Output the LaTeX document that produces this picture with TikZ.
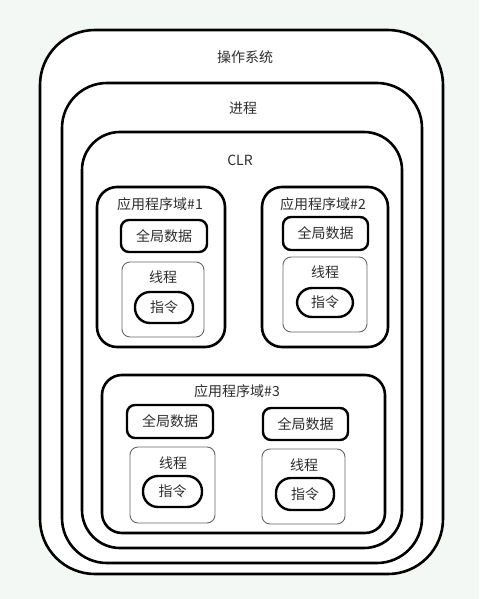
\documentclass[tikz,border=0pt]{standalone}
\usepackage{fontspec}
\newfontfamily\cjk{Noto Sans CJK SC}
\definecolor{bgc}{HTML}{F3F8F5}
\definecolor{txt}{HTML}{2E2E2E}
\definecolor{thin}{HTML}{666666}
\tikzset{
  bigbox/.style={draw=black, line width=2.6pt, fill=white},
  gdbox/.style={draw=black, line width=2.4pt, fill=white, rounded corners=8pt},
  thbox/.style={draw=thin, line width=0.9pt, fill=white, rounded corners=8pt},
  pill/.style={draw=black, line width=2.4pt, fill=white, rounded corners=15pt},
  lbl/.style={text=txt, font=\cjk\fontsize{14}{16}\selectfont, inner sep=0pt}
}
\begin{document}
\begin{tikzpicture}[x=1pt,y=-1pt]
\fill[bgc] (0,0) rectangle (479,599);
\useasboundingbox (0,0) rectangle (479,599);
% nested containers
\draw[bigbox, rounded corners=55pt] (40,30) rectangle (443,574);
\draw[bigbox, rounded corners=45pt] (62,83) rectangle (422,563);
\draw[bigbox, rounded corners=38pt] (82,132) rectangle (402,548);
\node[lbl] (os) at (245,57) {操作系统};
\node[lbl] (proc) at (243,108) {进程};
\node[lbl] (clr) at (240,160) {CLR};
% app domains
\draw[bigbox, rounded corners=20pt] (97,187) rectangle (225,347);
\draw[bigbox, rounded corners=20pt] (262,187) rectangle (388,347);
\draw[bigbox, rounded corners=20pt] (102,375) rectangle (385,533);
\node[lbl] (ad1) at (160,204) {应用程序域\#1};
\node[lbl] (ad2) at (323,204) {应用程序域\#2};
\node[lbl] (ad3) at (237,391) {应用程序域\#3};
% global data
\draw[gdbox] (121,220) rectangle (207,252);
\node[lbl] (gd1) at (164,236) {全局数据};
\draw[gdbox] (283,217) rectangle (368,250);
\node[lbl] (gd2) at (325.5,233.5) {全局数据};
\draw[gdbox] (127,405) rectangle (213,438);
\node[lbl] (gd3) at (170,421.5) {全局数据};
\draw[gdbox] (263,408) rectangle (348,440);
\node[lbl] (gd4) at (305.5,424) {全局数据};
% threads
\draw[thbox] (122,262) rectangle (204,337);
\node[lbl] (th1) at (163,277) {线程};
\draw[thbox] (283,257) rectangle (367,332);
\node[lbl] (th2) at (325,272) {线程};
\draw[thbox] (130,447) rectangle (215,523);
\node[lbl] (th3) at (173,463) {线程};
\draw[thbox] (262,449) rectangle (345,524);
\node[lbl] (th4) at (304,465) {线程};
% instructions
\draw[pill] (135,292) rectangle (193,323);
\node[lbl] (in1) at (164,307.5) {指令};
\draw[pill] (297,288) rectangle (353,317);
\node[lbl] (in2) at (325,302.5) {指令};
\draw[pill] (143,476) rectangle (202,507);
\node[lbl] (in3) at (172.5,491.5) {指令};
\draw[pill] (276,478) rectangle (334,510);
\node[lbl] (in4) at (305,494) {指令};
\end{tikzpicture}
\end{document}
